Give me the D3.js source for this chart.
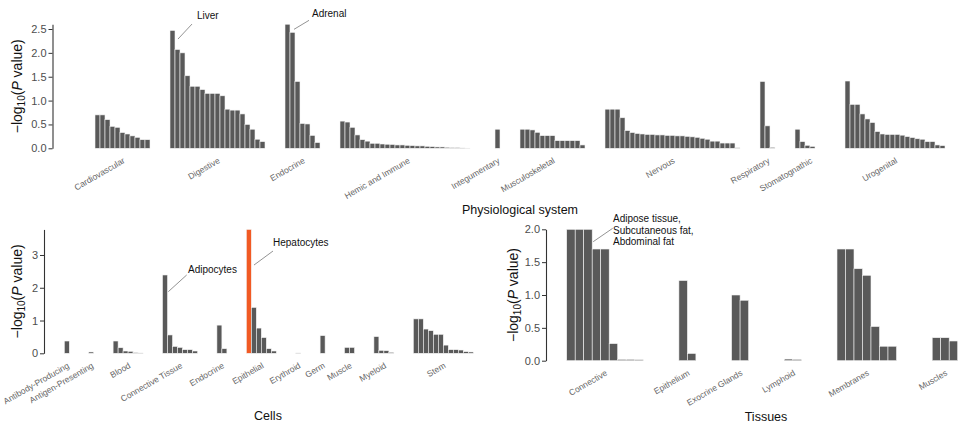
<!DOCTYPE html>
<html><head><meta charset="utf-8">
<script src="https://cdn.jsdelivr.net/npm/d3@7"></script>
<style>body{margin:0;background:#fff} text{font-family:"Liberation Sans",Arial,Helvetica,sans-serif}</style>
</head><body><svg id="c" width="959" height="424"></svg>
<script>
// ---------- DATA ----------
const physioCategories = ["Cardiovascular","Digestive","Endocrine","Hemic and Immune","Integumentary","Musculoskeletal","Nervous","Respiratory","Stomatognathic","Urogenital"];
const cardiovascular = [0.70,0.70,0.60,0.46,0.44,0.33,0.30,0.26,0.23,0.18,0.18];
const digestive = [2.47,2.07,2.00,1.52,1.30,1.30,1.23,1.15,1.15,1.15,1.10,0.82,0.80,0.80,0.72,0.50,0.40,0.19,0.14];
const endocrine = [2.60,2.43,1.40,0.52,0.51,0.27,0.12];
const hemicImmune = [0.57,0.55,0.44,0.28,0.18,0.15,0.105,0.105,0.09,0.085,0.08,0.07,0.07,0.063,0.056,0.05,0.05,0.042,0.035,0.028,0.028,0.021,0.014,0.014,0.007,0.003,0];
const integumentary = [0.40];
const musculoskeletal = [0.40,0.40,0.385,0.335,0.265,0.265,0.265,0.16,0.16,0.16,0.16,0.16,0.07];
const nervous = [0.82,0.82,0.82,0.64,0.37,0.33,0.31,0.30,0.29,0.29,0.28,0.28,0.27,0.27,0.26,0.26,0.25,0.24,0.23,0.21,0.19,0.15,0.15,0.11,0.11,0.11,0.01];
const respiratory = [1.40,0.47,0.02];
const stomatognathic = [0.40,0.14,0.063,0.04,0,0];
const urogenital = [1.41,0.92,0.92,0.72,0.615,0.54,0.35,0.30,0.29,0.29,0.29,0.275,0.245,0.225,0.20,0.19,0.14,0.14,0.07,0.056];
const physioValues = [cardiovascular,digestive,endocrine,hemicImmune,integumentary,musculoskeletal,nervous,respiratory,stomatognathic,urogenital];
const physioTicks = [0,0.5,1.0,1.5,2.0,2.5];

const cellCategories = ["Antibody-Producing","Antigen-Presenting","Blood","Connective Tissue","Endocrine","Epithelial","Erythroid","Germ","Muscle","Myeloid","Stem"];
const antibodyProducing = [0.375];
const antigenPresenting = [0.04];
const blood = [0.375,0.17,0.07,0.06,0.02,0.01];
const connectiveTissue = [2.39,0.56,0.21,0.18,0.11,0.11,0.07];
const endocrineCells = [0.86,0.14];
const epithelial = [3.78,1.40,0.77,0.48,0.14,0.07];
const erythroid = [0.01];
const germ = [0.54];
const muscle = [0.18,0.18];
const myeloid = [0.51,0.09,0.08,0.03];
const stem = [1.05,1.05,0.74,0.69,0.58,0.58,0.25,0.11,0.11,0.10,0.05,0.04];
const cellValues = [antibodyProducing,antigenPresenting,blood,connectiveTissue,endocrineCells,epithelial,erythroid,germ,muscle,myeloid,stem];
const cellTicks = [0,1,2,3];

const tissueCategories = ["Connective","Epithelium","Exocrine Glands","Lymphoid","Membranes","Muscles"];
const connective = [2.0,2.0,2.0,1.7,1.7,0.26,0.02,0.02,0.015];
const epithelium = [1.22,0.11];
const exocrineGlands = [1.0,0.92];
const lymphoid = [0.025,0.02];
const membranes = [1.70,1.70,1.40,1.30,0.52,0.22,0.22];
const muscles = [0.35,0.35,0.30];
const tissueValues = [connective,epithelium,exocrineGlands,lymphoid,membranes,muscles];
const tissueTicks = [0,0.5,1.0,1.5,2.0];

const panelTitles = ["Physiological system","Cells","Tissues"];
// annotations: [panel, group, bar index, text lines]
const annotations = [
  {panel:0, group:"Digestive", index:0, lines:["Liver"]},
  {panel:0, group:"Endocrine", index:1, lines:["Adrenal"]},
  {panel:1, group:"Connective Tissue", index:0, lines:["Adipocytes"]},
  {panel:1, group:"Epithelial", index:0, lines:["Hepatocytes"]},
  {panel:2, group:"Connective", index:2, lines:["Adipose tissue,","Subcutaneous fat,","Abdominal fat"]}
];
const highlight = {panel:1, group:"Epithelial", index:0};

// ---------- DRAW ----------
const svg = d3.select("#c");
svg.append("rect").attr("width",959).attr("height",424).attr("fill","#fff");
const BAR = "#595959", HL = "#f15a24";

function drawPanel(pi, cats, vals, o){
  const g = svg.append("g");
  let slot = 0; const layout = {};
  cats.forEach((c,i)=>{ layout[c] = {start:slot, n:vals[i].length, values:vals[i]}; slot += vals[i].length + o.gap; });
  const total = slot - o.gap;
  const x = d3.scaleLinear().domain([0,total]).range([o.x0, o.x0 + total*o.step]);
  const y = d3.scaleLinear().domain([0,o.yMax]).range([o.yBase, o.yBase - o.yMax*o.perUnit]);
  const w = x(1)-x(0);
  cats.forEach(c=>{
    const L = layout[c];
    g.selectAll(null).data(L.values).enter().append("rect")
      .attr("x",(d,j)=>x(L.start+j)).attr("width",w)
      .attr("y",d=>y(d)).attr("height",d=>y(0)-y(d))
      .attr("fill",(d,j)=> (highlight.panel===pi && highlight.group===c && highlight.index===j) ? HL : BAR)
      .attr("stroke","#f4f4f4").attr("stroke-width",0.6);
    const cx = x(L.start + L.n/2);
    g.append("text").attr("transform",`translate(${cx+3},${o.yBase+14}) rotate(-30)`)
      .attr("text-anchor","end").attr("font-size",8.5).attr("fill","#666").text(c);
  });
  const ax = g.append("g").attr("transform",`translate(${o.axisX},0)`)
    .call(d3.axisLeft(y).tickValues(o.ticks).tickFormat(o.fmt).tickSize(4).tickSizeOuter(0).tickPadding(2));
  ax.select(".domain").attr("stroke","#333").attr("stroke-width",1.1);
  ax.selectAll(".tick line").attr("stroke","#333").attr("stroke-width",1);
  ax.selectAll(".tick text").attr("font-size",11).attr("fill","#4d4d4d").attr("font-family","'Liberation Sans',Arial,sans-serif");
  // y title
  const t = g.append("text").attr("transform",`translate(${o.titleX},${(y(0)+y(o.yMax))/2}) rotate(-90)`)
    .attr("text-anchor","middle").attr("font-size",14).attr("fill","#111");
  t.append("tspan").text("\u2212log");
  t.append("tspan").attr("font-size",10).attr("dy",3).text("10");
  t.append("tspan").attr("dy",-3).text("(");
  t.append("tspan").attr("font-style","italic").text("P");
  t.append("tspan").text(" value)");
  return {x,y,layout,w};
}

const P = [];
P[0] = drawPanel(0, physioCategories, physioValues, {x0:95, step:5, gap:4, yBase:148.3, perUnit:47.72, yMax:2.6, ticks:physioTicks, fmt:d3.format(".1f"), axisX:52.5, titleX:22});
P[1] = drawPanel(1, cellCategories, cellValues, {x0:64.3, step:5, gap:3.88, yBase:353.3, perUnit:32.77, yMax:3.78, ticks:cellTicks, fmt:d3.format("d"), axisX:44, titleX:22});
P[2] = drawPanel(2, tissueCategories, tissueValues, {x0:566.7, step:8.5, gap:4.2, yBase:360.7, perUnit:65.7, yMax:2.0, ticks:tissueTicks, fmt:d3.format(".1f"), axisX:546, titleX:518});

// panel titles
const titlePos = [[520,214],[268,420],[766,421]];
panelTitles.forEach((s,i)=>{
  svg.append("text").attr("x",titlePos[i][0]).attr("y",titlePos[i][1]).attr("text-anchor","middle")
    .attr("font-size",12.5).attr("fill","#111").text(s);
});

// annotations (offsets relative to the bar's top-right corner)
const annOff = [
  {l1:[3,8.6], l2:[17,-6.4], t:[22,-11]},
  {l1:[-1,-3], l2:[14,-12], t:[17,-15]},
  {l1:[0.8,16.7], l2:[19.2,0], t:[20.5,-2]},
  {l1:[2.7,35.6], l2:[21.7,21.6], t:[21.7,16.6]},
  {l1:[1,12.4], l2:[20.5,-1], t:[20.8,-7.3], lh:11.5}
];
annotations.forEach((a,i)=>{
  const p = P[a.panel], L = p.layout[a.group];
  const bx = p.x(L.start + a.index) + p.w, by = p.y(L.values[a.index]);
  const o = annOff[i];
  svg.append("line").attr("x1",bx+o.l1[0]).attr("y1",by+o.l1[1]).attr("x2",bx+o.l2[0]).attr("y2",by+o.l2[1])
    .attr("stroke","#777").attr("stroke-width",0.8);
  const t = svg.append("text").attr("font-size",10).attr("fill","#111");
  a.lines.forEach((s,k)=>{
    t.append("tspan").attr("x",bx+o.t[0]).attr("y",by+o.t[1]+k*(o.lh||12)).text(s);
  });
});
</script></body></html>
